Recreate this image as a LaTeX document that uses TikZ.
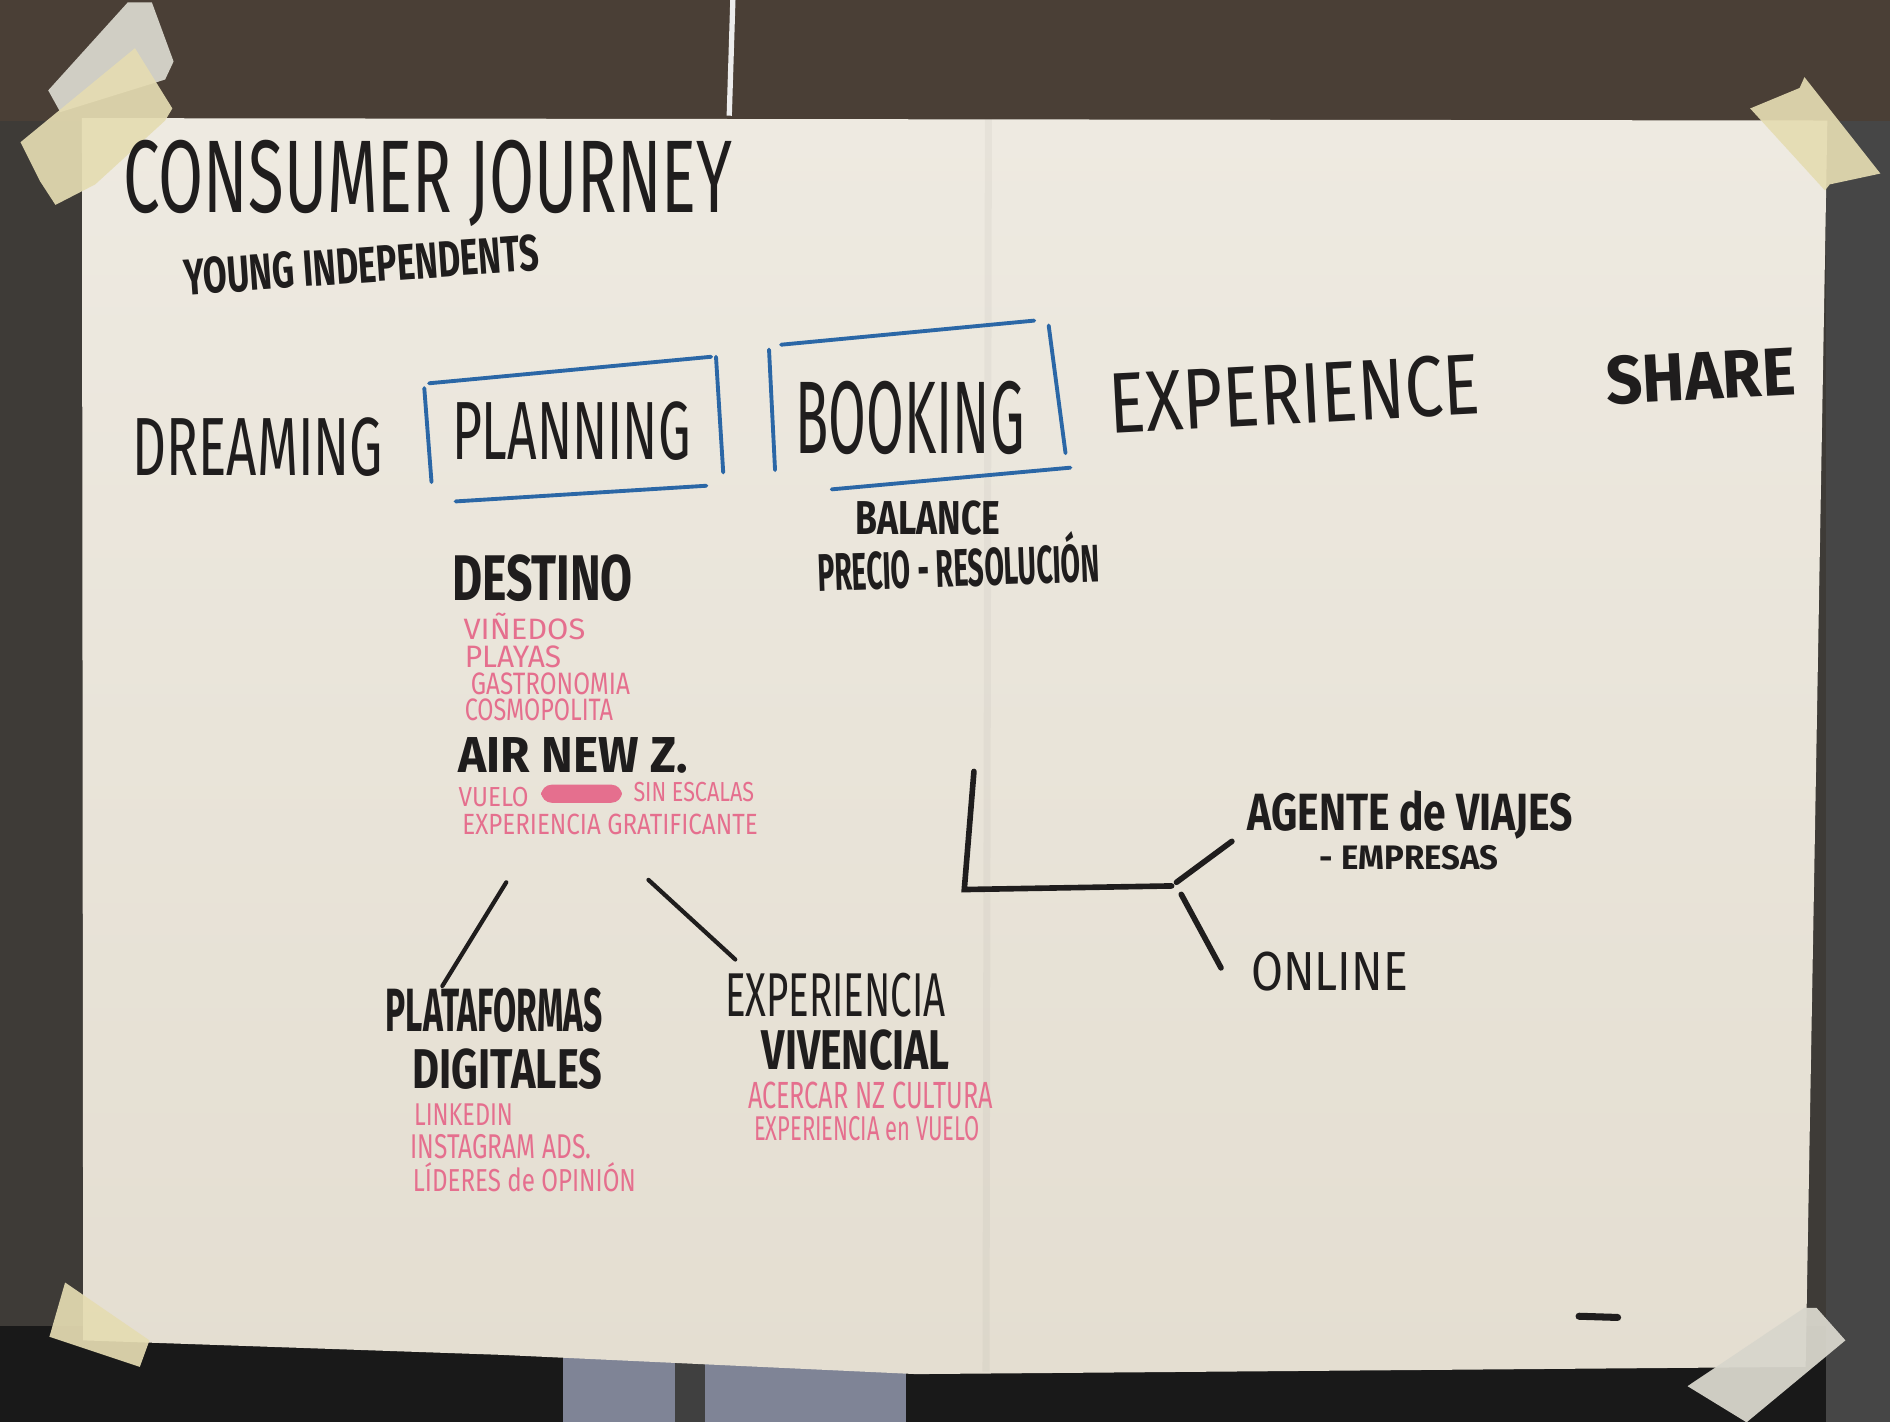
\documentclass[tikz,border=0pt]{standalone}
\usepackage{fontspec}
\setmainfont{Fira Sans}
\usepackage{graphicx}
\usetikzlibrary{calc}
\definecolor{paper}{HTML}{EEEAE1}
\definecolor{paperlow}{HTML}{E4DED1}
\definecolor{inkblack}{HTML}{1F1D1D}
\definecolor{inkpink}{HTML}{E56F8E}
\definecolor{inkblue}{HTML}{2B67A6}
\definecolor{tape}{HTML}{E5DCB2}
\definecolor{tapegrey}{HTML}{D8D6CC}
\definecolor{wood}{HTML}{4A3F36}
\definecolor{wall}{HTML}{3E3B37}
\definecolor{window}{HTML}{7F8496}
\newlength{\hwu}\setlength{\hwu}{0.012054cm}
% text squeezed to the size of the handwriting
\newcommand{\hw}[3]{\resizebox{#1\hwu}{#2\hwu}{#3}}
\tikzset{
  ink/.style={inner sep=0pt, text=inkblack},
  boldink/.style={ink, font=\bfseries},
  pinktext/.style={inner sep=0pt, text=inkpink, anchor=west},
  boxline/.style={inkblue, line width=1.1pt, line cap=round},
  stroke/.style={inkblack, line width=1.6pt, line cap=round},
  tapestrip/.style={fill=tape, fill opacity=0.92}
}
\begin{document}
\begin{tikzpicture}[x=0.012054cm, y=-0.012054cm]
  \useasboundingbox (0,0) rectangle (1568,1180);
  % Background and sheet
  \fill[wall] (0,0) rectangle (1568,1180);
  \fill[wood] (0,0) rectangle (1568,100);
  \fill[black!80!gray] (0,1100) rectangle (1568,1180);
  \fill[window] (467,1126) rectangle (752,1180);
  \fill[black!75] (560,1126) rectangle (585,1180);
  \fill[gray!55!black] (1515,100) rectangle (1568,1180);
  \draw[white!85!gray, line width=1.5pt] (608,0) -- (605,96);
  \shade[top color=paper, bottom color=paperlow]
    (68,98) -- (1516,100) -- (1498,1134) -- (760,1140) -- (415,1124) -- (69,1112) -- cycle;
  \draw[black, opacity=0.03, line width=2pt] (820,99) -- (818,1138);
  % Tape
  \fill[tapegrey, fill opacity=0.95] (106,2) -- (126,2) -- (144,51) -- (137,66) -- (50,93) -- (40,75) -- cycle;
  \fill[tapestrip] (17,118) -- (112,40) -- (143,90) -- (137,100) -- (79,153) -- (46,170) -- (33,150) -- cycle;
  \fill[tapestrip] (1452,90) -- (1493,73) -- (1497,64) -- (1560,144) -- (1518,153) -- (1514,158) -- cycle;
  \fill[tapestrip] (54,1064) -- (124,1112) -- (116,1134) -- (41,1109) -- cycle;
  \fill[tapegrey, fill opacity=0.95] (1400,1150) -- (1449,1180) -- (1531,1112) -- (1507,1085) -- (1497,1085) -- cycle;
  % Title
  \node[ink] (title) at (355,152) {\hw{505}{60}{CONSUMER JOURNEY}};
  \node[boldink, rotate=4] (subtitle) at (300,220) {\hw{295}{30}{YOUNG INDEPENDENTS}};
  % Stages
  \node[ink] (dreaming) at (214,371) {\hw{208}{48}{DREAMING}};
  \node[ink] (planning) at (474,358) {\hw{198}{48}{PLANNING}};
  \node[ink] (booking) at (755,347) {\hw{190}{60}{BOOKING}};
  \node[ink, rotate=3] (experience) at (1074,327) {\hw{308}{50}{EXPERIENCE}};
  \node[boldink, rotate=3] (share) at (1411,312) {\hw{157}{40}{SHARE}};
  % Boxes round planning and booking
  \draw[boxline] (352,322) -- (358,400);
  \draw[boxline] (356,318) -- (590,296);
  \draw[boxline] (594,296) -- (600,392);
  \draw[boxline] (378,416) -- (586,403);
  \draw[boxline] (638,290) -- (643,390);
  \draw[boxline] (648,286) -- (858,266);
  \draw[boxline] (870,270) -- (884,376);
  \draw[boxline] (690,406) -- (888,388);
  % Booking notes
  \node[boldink] (balance) at (770,430) {\hw{120}{28}{BALANCE}};
  \node[boldink, rotate=2] (precio) at (795,466) {\hw{234}{42}{PRECIO - RESOLUCIÓN}};
  % Planning column
  \node[boldink] (destino) at (450,480) {\hw{150}{38}{DESTINO}};
  \foreach \nm/\x/\y/\w/\h/\t in {vinedos/384/520/101/22/VIÑEDOS, playas/385/545/80/18/PLAYAS,
      gastro/390/567/132/18/GASTRONOMIA, cosmo/385/589/123/18/COSMOPOLITA} {
    \node[pinktext] (\nm) at (\x,\y) {\hw{\w}{\h}{\t}};
  }
  \node[boldink, anchor=west] (airnz) at (380,627) {\hw{190}{29}{AIR NEW Z.}};
  \node[pinktext] (vuelo) at (380,661) {\hw{58}{16}{VUELO}};
  \fill[inkpink, rounded corners=3pt] (449,651) rectangle (516,666);
  \node[pinktext] (escalas) at (525,657) {\hw{100}{16}{SIN ESCALAS}};
  \node[pinktext] (gratif) at (383,684) {\hw{245}{17}{EXPERIENCIA GRATIFICANTE}};
  % Split below planning
  \coordinate (splitL) at (420,732);
  \coordinate (splitR) at (538,730);
  \node[boldink] (plataformas) at (410,838) {\hw{180}{36}{PLATAFORMAS}};
  \node[boldink] (digitales) at (421,887) {\hw{157}{33}{DIGITALES}};
  \node[ink] (vivencia) at (693,826) {\hw{183}{36}{EXPERIENCIA}};
  \node[boldink] (vivencial) at (710,871) {\hw{156}{33}{VIVENCIAL}};
  \coordinate (platTop) at (367,818);
  \coordinate (vivTop) at (610,796);
  \draw[stroke, line width=1.2pt] (splitL) -- (platTop);
  \draw[stroke, line width=1.2pt] (splitR) -- (vivTop);
  \foreach \nm/\x/\y/\w/\h/\t in {linkedin/343/925/82/18/LINKEDIN, instagram/340/951/150/20/INSTAGRAM ADS.,
      lideres/342/977/185/24/LÍDERES de OPINIÓN, acercar/620/909/203/22/ACERCAR NZ CULTURA,
      expvuelo/625/936/187/20/EXPERIENCIA en VUELO} {
    \node[pinktext] (\nm) at (\x,\y) {\hw{\w}{\h}{\t}};
  }
  % Booking channels
  \node[boldink] (agente) at (1170,676) {\hw{270}{33}{AGENTE de VIAJES}};
  \node[boldink] (empresas) at (1169,712) {\hw{148}{20}{- EMPRESAS}};
  \node[ink] (online) at (1103,806) {\hw{130}{32}{ONLINE}};
  \coordinate (stem) at (808,640);
  \coordinate (corner) at (800,738);
  \coordinate (hub) at (972,735);
  \coordinate (toAgente) at (1022,698);
  \coordinate (toOnline) at (1013,803);
  \draw[stroke] (stem) -- (corner) -- (hub);
  \draw[stroke] ($(hub)+(4,-3)$) -- (toAgente);
  \draw[stroke] ($(hub)+(8,7)$) -- (toOnline);
  % Mark at bottom right
  \draw[stroke, line width=2pt] (1310,1092) -- (1342,1093);
\end{tikzpicture}
\end{document}
